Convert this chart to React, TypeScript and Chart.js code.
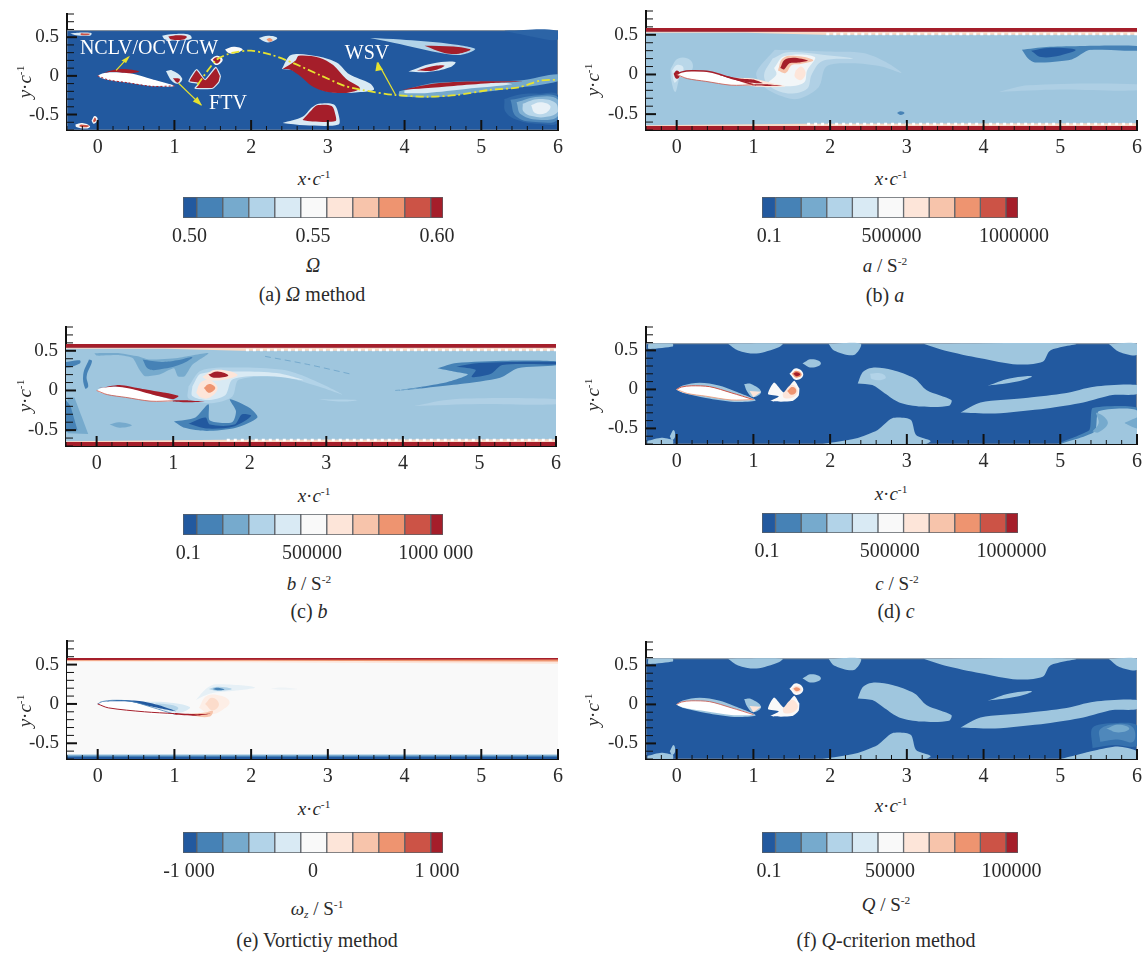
import React, { useEffect, useRef } from "react";
import { Chart, registerables } from "chart.js";
Chart.register(...registerables);

type Pt = [number, number];
const FONT = '"Liberation Serif", serif';

/* colour levels of the contour legend */
const levelColors = ["#22599f", "#4682b6", "#76aacd", "#b2d3e8", "#d9eaf4", "#f9f9f9", "#fde5d9", "#f7c4ab", "#ee9470", "#cc5346", "#a51e2a"];
const bandWidths = [0.53, 1, 1, 1, 1, 1, 1, 1, 1, 1, 0.47];
const [B0, B1, B2, B3, B4, B5, B6, B7, B8, B9, B10] = levelColors;
const FIELD_LIGHT = "#9fc6de";

const xTickMajor = [0, 1, 2, 3, 4, 5, 6];
const yTickMajor = [-0.5, 0, 0.5];

/* shared geometry */
const fieldRect: Pt[] = [[-0.4, 0.585], [6, 0.585], [6, -0.7], [-0.4, -0.7]];
const airfoil: Pt[] = [[0, 0], [0.06, 0.03], [0.19, 0.046], [0.43, 0.035], [0.71, -0.043], [1, -0.13], [0.71, -0.135], [0.38, -0.087], [0.14, -0.052], [0.03, -0.02]];
const airfoilUpperEdge: Pt[] = [[0, 0], [0.06, 0.03], [0.19, 0.046], [0.43, 0.035], [0.71, -0.043], [1, -0.13]];
const airfoilLowerEdge: Pt[] = [[0, 0], [0.14, -0.052], [0.38, -0.087], [0.71, -0.135], [1, -0.13]];

/* panel a, Omega */
const aTopLeft: Pt[] = [[-0.36, 0.55], [-0.18, 0.56], [-0.08, 0.55], [-0.1, 0.52], [-0.3, 0.53]];
const aTopLeftCore: Pt[] = [[-0.22, 0.55], [-0.1, 0.545], [-0.12, 0.53], [-0.22, 0.53]];
const aTopHalo: Pt[] = [[0.84, 0.52], [1.0, 0.54], [1.2, 0.53], [1.22, 0.48], [1.05, 0.46], [0.88, 0.47]];
const aTopCore: Pt[] = [[0.92, 0.51], [1.05, 0.525], [1.16, 0.51], [1.12, 0.47], [0.96, 0.47]];
const aSmallHalo: Pt[] = [[2.1, 0.49], [2.22, 0.52], [2.34, 0.49], [2.26, 0.44], [2.18, 0.44]];
const aSmallCore: Pt[] = [[2.2, 0.47], [2.24, 0.49], [2.28, 0.46], [2.24, 0.44]];
const aWhitePatch: Pt[] = [[1.66, 0.34], [1.77, 0.375], [1.89, 0.34], [1.78, 0.29], [1.7, 0.3]];
const aCircleHalo: Pt[] = [[1.47, 0.21], [1.55, 0.26], [1.63, 0.21], [1.55, 0.14]];
const aCircleCore: Pt[] = [[1.5, 0.21], [1.55, 0.24], [1.6, 0.21], [1.55, 0.16]];
const aPacman: Pt[] = [[1.6, 0.0], [1.54, 0.11], [1.4, -0.05], [1.29, 0.08], [1.19, -0.07], [1.32, -0.1], [1.27, -0.16], [1.5, -0.16], [1.58, -0.08]];
const aWingHalo: Pt[] = [[0.89, 0.06], [0.97, 0.07], [1.1, -0.03], [1.05, -0.1], [0.97, -0.07]];
const aWingCore: Pt[] = [[0.98, -0.03], [1.07, -0.04], [1.04, -0.09]];
const aMainHalo: Pt[] = [[2.4, 0.09], [2.52, 0.27], [2.88, 0.25], [3.12, 0.17], [3.28, 0.02], [3.55, -0.1], [3.6, -0.18], [3.36, -0.215], [3.12, -0.22], [2.89, -0.17], [2.7, -0.03], [2.55, 0.07]];
const aMainCore: Pt[] = [[2.41, 0.09], [2.58, 0.2], [2.62, 0.26], [2.89, 0.235], [3.07, 0.14], [3.24, -0.04], [3.42, -0.16], [3.24, -0.22], [2.98, -0.205], [2.79, -0.13], [2.65, -0.01], [2.51, 0.08]];
const aLowerHalo: Pt[] = [[2.41, -0.61], [2.67, -0.53], [2.79, -0.41], [2.88, -0.36], [3.08, -0.37], [3.14, -0.5], [3.14, -0.63], [2.7, -0.64]];
const aLowerCore: Pt[] = [[2.67, -0.57], [2.79, -0.44], [2.86, -0.38], [3.05, -0.39], [3.1, -0.51], [3.1, -0.585], [2.8, -0.59]];
const aUpperHalo: Pt[] = [[3.55, 0.49], [3.95, 0.47], [4.55, 0.42], [4.92, 0.35], [4.73, 0.27], [4.4, 0.31], [3.95, 0.41]];
const aUpperCore: Pt[] = [[4.26, 0.39], [4.64, 0.38], [4.86, 0.34], [4.71, 0.287], [4.52, 0.296]];
const aMidHalo: Pt[] = [[4.05, 0.057], [4.35, 0.157], [4.66, 0.18], [4.59, 0.11], [4.3, 0.05]];
const aMidCore: Pt[] = [[4.16, 0.07], [4.4, 0.13], [4.52, 0.13], [4.38, 0.07]];
const aWakeHalo: Pt[] = [[3.93, -0.2], [4.4, -0.09], [5.5, -0.06], [6, 0.02], [6, -0.07], [5.43, -0.16], [4.87, -0.226], [4.4, -0.278], [3.93, -0.26]];
const aWakeInner: Pt[] = [[4.0, -0.19], [4.4, -0.11], [5.3, -0.09], [5.4, -0.11], [4.8, -0.17], [4.3, -0.22], [4.0, -0.22]];
const aWakeCore: Pt[] = [[3.97, -0.18], [4.4, -0.1], [4.87, -0.074], [5.54, -0.074], [5.1, -0.096], [4.64, -0.13], [4.26, -0.16]];
const aGlow1: Pt[] = [[5.3, -0.3], [5.5, -0.24], [5.75, -0.23], [6, -0.25], [6, -0.6], [5.75, -0.62], [5.5, -0.58], [5.32, -0.47]];
const aGlow2: Pt[] = [[5.38, -0.31], [5.75, -0.25], [6, -0.28], [6, -0.56], [5.75, -0.6], [5.46, -0.53]];
const aGlow3: Pt[] = [[5.46, -0.34], [5.75, -0.27], [6, -0.31], [6, -0.52], [5.78, -0.57], [5.52, -0.5]];
const aGlow4: Pt[] = [[5.54, -0.36], [5.75, -0.3], [5.97, -0.35], [6, -0.46], [5.85, -0.53], [5.66, -0.52], [5.55, -0.46]];
const aGlow5: Pt[] = [[5.65, -0.38], [5.77, -0.34], [5.9, -0.39], [5.84, -0.48], [5.7, -0.48]];
const aCornerLeft: Pt[] = [[-0.29, -0.63], [-0.2, -0.61], [-0.1, -0.65], [-0.14, -0.68], [-0.28, -0.66]];
const aCornerLeftCore: Pt[] = [[-0.22, -0.63], [-0.11, -0.645], [-0.15, -0.665], [-0.24, -0.65]];
const aCornerDot: Pt[] = [[-0.08, -0.58], [-0.04, -0.52], [0, -0.56], [-0.05, -0.62]];
const aCornerDotCore: Pt[] = [[-0.06, -0.58], [-0.04, -0.54], [-0.02, -0.57], [-0.05, -0.6]];
const aYellowLine: Pt[] = [[1.3, -0.117], [1.55, 0.209], [1.75, 0.296], [2, 0.326], [2.27, 0.27], [2.55, 0.165], [2.89, 0.013], [3.22, -0.13], [3.45, -0.183], [3.88, -0.248], [4.31, -0.27], [4.68, -0.248], [5.1, -0.183], [5.49, -0.148], [5.77, -0.06], [6, -0.052]];
const aArrowNclv: Pt[] = [[0.24, 0.07], [0.4, 0.243]];
const aArrowNclvHead: Pt[] = [[0.42, 0.26], [0.31, 0.2], [0.37, 0.165]];
const aArrowFtv: Pt[] = [[1.055, -0.096], [1.35, -0.378]];
const aArrowFtvHead: Pt[] = [[1.36, -0.385], [1.24, -0.33], [1.3, -0.27]];
const aArrowWsv: Pt[] = [[3.88, -0.24], [3.65, 0.174]];
const aArrowWsvHead: Pt[] = [[3.64, 0.18], [3.62, 0.06], [3.72, 0.08]];
const aUpperFaint: Pt[] = [[5.3, 0.585], [6, 0.585], [6, 0.47], [5.7, 0.5], [5.5, 0.54]];

/* panel b, a */
const bTopBand: Pt[] = [[-0.4, 0.585], [6, 0.585], [6, 0.54], [-0.4, 0.54]];
const bTopPale: Pt[] = [[-0.4, 0.54], [6, 0.54], [6, 0.5], [1.9, 0.5], [0.9, 0.525], [-0.4, 0.525]];
const bBottomBand: Pt[] = [[-0.4, -0.7], [6, -0.7], [6, -0.65], [-0.4, -0.65]];
const bBottomPale: Pt[] = [[-0.4, -0.65], [6, -0.65], [6, -0.615], [1.7, -0.62], [-0.4, -0.64]];
const bDotsTop: Pt[] = [[1.95, 0.51], [6, 0.51]];
const bDotsBottom: Pt[] = [[1.7, -0.625], [6, -0.625]];
const bLeadHalo: Pt[] = [[-0.08, 0.07], [0.02, 0.2], [0.18, 0.18], [0.2, 0.06], [0.05, 0], [0.02, -0.1], [-0.02, -0.22], [-0.07, -0.08]];
const bLeadMid: Pt[] = [[-0.06, 0.05], [0, 0.12], [0.08, 0.1], [0.08, 0.03], [0.02, -0.06], [-0.03, -0.1]];
const bLeadCore: Pt[] = [[-0.04, 0.01], [0, 0.05], [0.04, 0.02], [0.03, -0.04], [-0.01, -0.05]];
const bTail: Pt[] = [[1.28, 0.31], [1.95, 0.29], [2.43, 0.27], [2.72, 0.16], [2.93, 0.02], [2.67, 0.1], [2.28, 0.14], [1.95, 0.1], [1.85, -0.16], [1.57, -0.31], [1.28, -0.24], [1.09, -0.115], [1.04, 0.03]];
const bTail2: Pt[] = [[1.25, 0.2], [1.45, 0.28], [1.9, 0.25], [2.3, 0.2], [1.9, 0.17], [1.76, 0.0], [1.7, -0.18], [1.45, -0.24], [1.2, -0.14], [1.14, 0.0]];
const bTailWhite: Pt[] = [[1.27, 0.08], [1.4, 0.23], [1.8, 0.22], [1.7, 0.05], [1.66, -0.1], [1.42, -0.15], [1.2, -0.11], [1.3, 0.0]];
const bSalmon: Pt[] = [[1.55, 0.05], [1.62, 0.1], [1.68, 0.02], [1.62, -0.07], [1.54, -0.03]];
const bVortex: Pt[] = [[1.35, 0.08], [1.4, 0.18], [1.52, 0.21], [1.71, 0.175], [1.6, 0.15], [1.47, 0.14], [1.4, 0.064]];
const bVortexHalo: Pt[] = [[1.32, 0.05], [1.38, 0.2], [1.52, 0.235], [1.78, 0.18], [1.6, 0.13], [1.5, 0.12], [1.42, 0.02]];
const bEdgeHalo: Pt[] = [[0.72, -0.04], [1.0, -0.05], [1.25, -0.11], [1.42, -0.15], [1.0, -0.15]];
const bEdgeCore: Pt[] = [[0.55, -0.005], [0.85, -0.055], [1.0, -0.065], [1.12, -0.11], [0.93, -0.1], [0.72, -0.06]];
const bEdgeLower: Pt[] = [[1.0, -0.125], [1.2, -0.125], [1.38, -0.14], [1.2, -0.145], [1.0, -0.14]];
const bBlueOuter: Pt[] = [[4.5, 0.31], [4.82, 0.345], [6, 0.36], [6, 0.3], [5.39, 0.31], [5.15, 0.19], [4.67, 0.15], [4.58, 0.2]];
const bBlueInner: Pt[] = [[4.62, 0.3], [4.85, 0.335], [5.2, 0.31], [5.0, 0.24], [4.75, 0.22]];
const bBlueLine: Pt[] = [[5.2, 0.325], [6, 0.34], [6, 0.315], [5.2, 0.315]];
const bPaleStreak: Pt[] = [[4.2, -0.22], [4.58, -0.137], [6, -0.124], [6, -0.2], [5.0, -0.19]];
const bDot: Pt[] = [[2.87, -0.487], [2.92, -0.465], [2.97, -0.487], [2.92, -0.51]];

/* panel c, b */
const cTopBlue: Pt[] = [[-0.03, 0.47], [0.3, 0.47], [0.54, 0.43], [0.68, 0.39], [1.06, 0.41], [1.46, 0.47], [1.25, 0.325], [1.15, 0.18], [1.06, 0.18], [1.01, 0.28], [0.82, 0.2], [0.63, 0.18], [0.56, 0.26], [0.47, 0.41], [0.3, 0.445], [0, 0.44]];
const cTopBlueDark: Pt[] = [[0.6, 0.39], [0.85, 0.36], [1.05, 0.38], [1.25, 0.42], [1.1, 0.33], [0.85, 0.27], [0.68, 0.27]];
const cCrescent: Pt[] = [[-0.1, 0.39], [-0.175, 0.2], [-0.15, 0.025], [-0.11, 0.05], [-0.13, 0.18], [-0.06, 0.37]];
const cLeftTop: Pt[] = [[-0.4, 0.36], [-0.22, 0.38], [-0.22, 0.34], [-0.4, 0.29]];
const cLeftLow: Pt[] = [[-0.38, -0.09], [-0.29, -0.09], [-0.11, -0.55], [-0.38, -0.54]];
const cLeftLowDark: Pt[] = [[-0.4, -0.12], [-0.34, -0.2], [-0.25, -0.5], [-0.4, -0.52]];
const cLowerU: Pt[] = [[1.01, -0.39], [1.29, -0.34], [1.46, -0.175], [1.48, -0.38], [1.77, -0.4], [1.82, -0.26], [1.74, -0.11], [2.0, -0.22], [2.1, -0.34], [1.82, -0.47], [1.44, -0.51], [1.15, -0.47]];
const cLowerUDark: Pt[] = [[1.2, -0.42], [1.42, -0.34], [1.48, -0.43], [1.8, -0.43], [1.9, -0.3], [2.02, -0.32], [1.8, -0.45], [1.44, -0.48]];
const cSmallEllipse: Pt[] = [[0.17, -0.43], [0.3, -0.4], [0.46, -0.44], [0.3, -0.47]];
const cUpperRight: Pt[] = [[4.45, 0.28], [4.7, 0.346], [5.37, 0.375], [6, 0.367], [6, 0.317], [5.5, 0.28], [5.27, 0.16], [4.75, 0.08], [3.95, 0], [4.56, 0.1], [4.85, 0.2], [4.66, 0.24]];
const cUpperRightDark: Pt[] = [[4.7, 0.3], [5.0, 0.345], [6, 0.36], [6, 0.33], [5.3, 0.32], [5.15, 0.21], [4.9, 0.17], [4.95, 0.26]];
const cVortexCore: Pt[] = [[1.46, 0.2], [1.58, 0.24], [1.72, 0.19], [1.58, 0.16], [1.5, 0.17]];
const cSecondCore: Pt[] = [[1.4, 0.03], [1.47, 0.08], [1.55, 0.03], [1.47, -0.03]];
const cSecondHalo: Pt[] = [[1.3, -0.03], [1.36, 0.1], [1.48, 0.13], [1.58, 0.03], [1.48, -0.09], [1.36, -0.09]];
const cVortexHalo: Pt[] = [[1.38, 0.17], [1.56, 0.26], [1.84, 0.2], [1.7, 0.14], [1.46, 0.13]];
const cTail: Pt[] = [[1.2, 0.05], [1.36, 0.25], [1.77, 0.29], [2.43, 0.26], [2.76, 0.16], [3.21, -0.05], [2.9, 0.05], [2.43, 0.167], [1.86, 0.137], [1.77, -0.08], [1.5, -0.16], [1.2, -0.1]];
const cTailWhite: Pt[] = [[1.25, 0.05], [1.36, 0.21], [1.8, 0.24], [2.35, 0.22], [2.7, 0.13], [2.3, 0.18], [1.78, 0.14], [1.68, -0.06], [1.45, -0.12], [1.25, -0.07]];
const cPaleStreak: Pt[] = [[4.14, -0.196], [4.66, -0.11], [6, -0.11], [6, -0.175], [5.0, -0.17]];
const cPaleMini: Pt[] = [[2.9, -0.11], [3.4, -0.12], [3.2, -0.14]];
const cThinTop: Pt[] = [[2.2, 0.43], [2.75, 0.33], [3.35, 0.2]];
const cThinLow: Pt[] = [[3.9, 0], [4.25, 0.03]];
const cEdgeCore: Pt[] = [[0.03, 0.03], [0.3, 0.07], [0.6, 0.02], [0.9, -0.03], [1.07, -0.07], [1.0, -0.11], [0.8, -0.07], [0.5, 0.01], [0.25, 0.05]];

/* panels d and f, c and Q */
const dTopLeft: Pt[] = [[-0.37, 0.585], [-0.05, 0.585], [-0.05, 0.55], [-0.37, 0.52]];
const dTop1: Pt[] = [[0.67, 0.585], [1.38, 0.585], [1.33, 0.54], [1.04, 0.46], [0.8, 0.5]];
const dTop2: Pt[] = [[1.98, 0.585], [2.4, 0.585], [2.31, 0.44], [2.05, 0.5]];
const dTop3: Pt[] = [[3.22, 0.585], [5.2, 0.585], [4.87, 0.5], [4.77, 0.355], [4.44, 0.32], [3.96, 0.4], [3.49, 0.5]];
const dTop4: Pt[] = [[5.63, 0.585], [6, 0.585], [6, 0.44], [5.77, 0.48]];
const dOval: Pt[] = [[1.64, 0.333], [1.76, 0.385], [1.88, 0.333], [1.76, 0.28]];
const dCircle: Pt[] = [[1.47, 0.2], [1.56, 0.27], [1.65, 0.19], [1.56, 0.12]];
const dCircleCore: Pt[] = [[1.52, 0.2], [1.56, 0.22], [1.61, 0.19], [1.56, 0.17]];
const dCircleMid: Pt[] = [[1.5, 0.2], [1.56, 0.24], [1.63, 0.19], [1.56, 0.15]];
const dPacman: Pt[] = [[1.6, 0.01], [1.53, 0.11], [1.4, -0.04], [1.27, 0.09], [1.19, -0.06], [1.33, -0.09], [1.22, -0.15], [1.5, -0.15], [1.59, -0.08]];
const dPacmanPale: Pt[] = [[1.38, -0.06], [1.5, 0.06], [1.58, -0.02], [1.52, -0.1], [1.4, -0.11]];
const dPacmanSpot: Pt[] = [[1.44, -0.02], [1.51, 0.03], [1.56, -0.02], [1.5, -0.07]];
const dWing: Pt[] = [[0.88, 0.07], [0.97, 0.07], [1.1, -0.03], [1.0, -0.1], [0.92, -0.03]];
const dWingWhite: Pt[] = [[0.95, -0.02], [1.1, -0.03], [1.0, -0.1]];
const dAirfoilHalo: Pt[] = [[-0.01, 0], [0.08, 0.05], [0.3, 0.085], [0.55, 0.05], [0.75, -0.02], [1.03, -0.14], [0.75, -0.16], [0.38, -0.11], [0.1, -0.05]];
const dMain: Pt[] = [[2.36, 0.077], [2.43, 0.226], [2.57, 0.28], [2.81, 0.248], [3.1, 0.14], [3.26, -0.01], [3.58, -0.137], [3.55, -0.21], [3.19, -0.22], [2.9, -0.167], [2.71, -0.05], [2.55, 0.055]];
const dMainPale: Pt[] = [[2.52, 0.2], [2.68, 0.2], [2.72, 0.14], [2.55, 0.13]];
const dMid: Pt[] = [[4.05, 0.047], [4.34, 0.14], [4.63, 0.17], [4.44, 0.1]];
const dLong: Pt[] = [[3.7, -0.295], [3.96, -0.167], [4.58, -0.107], [5.06, -0.05], [5.44, 0.034], [6, 0.055], [6, -0.06], [5.68, -0.073], [5.3, -0.167], [4.82, -0.244], [4.15, -0.308]];
const dLower: Pt[] = [[1.9, -0.7], [2.33, -0.63], [2.62, -0.52], [2.81, -0.37], [3.05, -0.39], [3.12, -0.585], [3.31, -0.66], [3.24, -0.7]];
const dLowerRightHalo: Pt[] = [[4.95, -0.7], [5.38, -0.52], [5.42, -0.24], [6, -0.235], [6, -0.7]];
const dLowerRight: Pt[] = [[5.0, -0.7], [5.45, -0.54], [5.5, -0.28], [6, -0.27], [6, -0.7]];
const dCrossL: Pt[] = [[5.42, -0.54], [5.5, -0.43], [5.47, -0.3], [5.62, -0.42], [5.5, -0.55]];
const dCrossR: Pt[] = [[6, -0.36], [5.84, -0.43], [6, -0.5]];
const dBottomLeft: Pt[] = [[-0.38, -0.66], [-0.2, -0.62], [-0.05, -0.65], [-0.05, -0.7], [-0.38, -0.7]];
const dBottomDot: Pt[] = [[-0.09, -0.6], [-0.04, -0.52], [-0.02, -0.6], [-0.06, -0.65]];
const fBottomStrip: Pt[] = [[5.0, -0.7], [5.45, -0.59], [5.75, -0.54], [6, -0.6], [6, -0.7]];
const fLowerDark: Pt[] = [[5.42, -0.56], [5.42, -0.3], [5.72, -0.24], [6, -0.27], [6, -0.53], [5.7, -0.52]];
const fLowerMid: Pt[] = [[5.52, -0.48], [5.52, -0.32], [5.75, -0.25], [5.95, -0.3], [5.95, -0.48], [5.75, -0.45]];
const fLowerGlow: Pt[] = [[5.6, -0.31], [5.76, -0.26], [5.9, -0.31], [5.76, -0.36]];

/* panel e, vorticity */
const eTopBand: Pt[] = [[-0.4, 0.585], [6, 0.585], [6, 0.565], [-0.4, 0.56]];
const eTopMid: Pt[] = [[-0.4, 0.565], [6, 0.575], [6, 0.54], [2, 0.55], [-0.4, 0.55]];
const eTopPale: Pt[] = [[-0.4, 0.555], [6, 0.56], [6, 0.51], [2, 0.53], [-0.4, 0.54]];
const eBottom1: Pt[] = [[-0.4, -0.64], [6, -0.64], [6, -0.7], [-0.4, -0.7]];
const eBottom2: Pt[] = [[-0.4, -0.655], [6, -0.655], [6, -0.7], [-0.4, -0.7]];
const eBottom3: Pt[] = [[-0.4, -0.675], [6, -0.675], [6, -0.7], [-0.4, -0.7]];
const eUpperBlue: Pt[] = [[0.02, 0.025], [0.28, 0.05], [0.57, 0.034], [0.8, -0.017], [1.02, -0.093], [0.73, -0.04], [0.45, 0.025], [0.2, 0.035]];
const eUpperPale: Pt[] = [[0.6, 0.03], [0.9, 0.02], [1.2, -0.04], [1.12, -0.1], [1.0, -0.11], [0.75, -0.04]];
const eUpperPale2: Pt[] = [[0.75, 0.01], [0.95, -0.01], [1.05, -0.05], [1.0, -0.09], [0.8, -0.03]];
const eLowerEdge: Pt[] = [[0, 0], [0.14, -0.05], [0.61, -0.1], [1, -0.123]];
const eLowerWake: Pt[] = [[1, -0.115], [1.28, -0.13], [1.47, -0.125], [1.28, -0.15], [1, -0.135]];
const eLowerWakePale: Pt[] = [[1.2, -0.125], [1.4, -0.11], [1.5, -0.09], [1.46, -0.16], [1.25, -0.15]];
const eCircleOuter: Pt[] = [[1.32, -0.05], [1.42, 0.1], [1.62, 0.1], [1.72, 0.02], [1.62, -0.08], [1.46, -0.13]];
const eCircleInner: Pt[] = [[1.4, 0], [1.49, 0.08], [1.58, 0], [1.5, -0.08]];
const eVortexHalo: Pt[] = [[1.28, 0.05], [1.42, 0.2], [1.55, 0.25], [2.05, 0.21], [1.7, 0.16], [1.5, 0.14], [1.38, 0.1]];
const eVortexMid: Pt[] = [[1.45, 0.19], [1.56, 0.22], [1.75, 0.19], [1.56, 0.165]];
const eVortexCore: Pt[] = [[1.5, 0.19], [1.56, 0.205], [1.65, 0.185], [1.56, 0.175]];
const eFaint: Pt[] = [[2.25, 0.195], [2.4, 0.21], [2.6, 0.19], [2.4, 0.18]];

type Layer = { pts: Pt[]; fill?: string; stroke?: string; width?: number; dash?: number[]; tension?: number };
const area = (pts: Pt[], fill: string, tension = 0.42, stroke?: string, width = 0): Layer => ({ pts: [...pts, pts[0]], fill, tension, stroke, width });
const line = (pts: Pt[], stroke: string, width = 1, dash?: number[], tension = 0.3): Layer => ({ pts, stroke, width, dash, tension });
const hardEdge = "#7a8794";

const panelA: Layer[] = [
  area(fieldRect, B0, 0, hardEdge, 1),
  area(aUpperFaint, "#2c64a6"),
  area(aGlow1, "#2f68a8"), area(aGlow2, "#4f88bb"), area(aGlow3, "#82b1d3"), area(aGlow4, "#b9d7ea"), area(aGlow5, "#e8f1f7"),
  area(aTopLeft, B4), area(aTopLeftCore, B9), area(aTopHalo, B4), area(aTopCore, B10),
  area(aSmallHalo, B4), area(aSmallCore, B8), area(aWhitePatch, B5),
  area(aUpperHalo, B3, 0.3), area(aUpperCore, B10, 0.3),
  area(aMidHalo, B4), area(aMidCore, B10),
  area(aWakeHalo, B2, 0.3), area(aWakeInner, B4, 0.3), area(aWakeCore, B10, 0.3),
  area(aMainHalo, B4, 0.3), area(aMainCore, B10, 0.3),
  area(aLowerHalo, B4, 0.3), area(aLowerCore, B10, 0.3),
  area(aCircleHalo, B5), area(aCircleCore, B10),
  area(aPacman, B10, 0.15, B4, 1.2),
  area(aWingHalo, B4), area(aWingCore, B10),
  area(aCornerLeft, B5), area(aCornerLeftCore, B9), area(aCornerDot, B5), area(aCornerDotCore, B9),
  area(airfoil, "#ffffff", 0.3),
  line(airfoilLowerEdge, B10, 1, [2, 2]),
  area([[0.05, 0.035], [0.28, 0.087], [0.54, 0.057], [0.42, 0.035], [0.19, 0.05]], B10),
  line(aYellowLine, "#e6e22f", 1.8, [8, 3, 2, 3], 0.25),
  line(aArrowNclv, "#e6e22f", 1.2, undefined, 0), area(aArrowNclvHead, "#e6e22f", 0),
  line(aArrowFtv, "#e6e22f", 1.2, undefined, 0), area(aArrowFtvHead, "#e6e22f", 0),
  line(aArrowWsv, "#e6e22f", 1.2, undefined, 0), area(aArrowWsvHead, "#e6e22f", 0),
];

const bands: Layer[] = [
  area(bTopPale, "#fbd9c5", 0), area(bTopBand, B10, 0),
  area(bBottomPale, "#fbd9c5", 0), area(bBottomBand, B10, 0),
  line(bDotsTop, "#ffffff", 2.5, [3, 4], 0), line(bDotsBottom, "#ffffff", 2.5, [3, 4], 0),
];

const panelB: Layer[] = [
  area(fieldRect, FIELD_LIGHT, 0),
  ...bands,
  area(bPaleStreak, "#aecfe4", 0.3),
  area(bBlueOuter, B1, 0.25), area(bBlueInner, B0, 0.35), area(bBlueLine, B1, 0),
  area(bDot, B1),
  area(bLeadHalo, "#b9d7e9"), area(bLeadMid, B4), area(bLeadCore, B10),
  area(bTail, "#b0d0e5", 0.3), area(bTail2, "#cbe1ee", 0.35), area(bTailWhite, "#f2f6f8", 0.35), area(bSalmon, B6),
  area(bVortexHalo, B7), area(bVortex, B10, 0.3),
  area(airfoil, "#ffffff", 0.3),
  area(bEdgeHalo, B6, 0.3), area(bEdgeLower, B10, 0.2), area(bEdgeCore, B10, 0.2),
  line(airfoilUpperEdge, B10, 1.4), line(airfoilLowerEdge, B9, 0.8),
];

const panelC: Layer[] = [
  area(fieldRect, FIELD_LIGHT, 0),
  ...bands,
  area(cTopBlue, B2, 0.2), area(cTopBlueDark, B1),
  area(cCrescent, B1), area(cLeftTop, B1), area(cLeftLow, B2, 0), area(cLeftLowDark, B1, 0),
  area(cLowerU, B1, 0.25), area(cLowerUDark, B0, 0.3),
  area(cSmallEllipse, B2),
  area(cUpperRight, B1, 0.25), area(cUpperRightDark, B0, 0.3),
  line(cThinTop, B2, 1, [6, 4]), line(cThinLow, B2, 1, [5, 3]),
  area(cPaleStreak, "#b0d0e5", 0.3), area(cPaleMini, B3),
  area(cTail, B3, 0.3), area(cTailWhite, B4, 0.3),
  area(cSecondHalo, B6), area(cSecondCore, B8),
  area(cVortexHalo, B6), area(cVortexCore, B10),
  area(airfoil, "#ffffff", 0.3),
  area(cEdgeCore, B10, 0.2), line(airfoilLowerEdge, B9, 0.8),
  area([[1, -0.125], [1.2, -0.125], [1.42, -0.14], [1.2, -0.15], [1, -0.14]], B10, 0.2),
];

const wakeBlobs: Layer[] = [
  area(dTopLeft, FIELD_LIGHT, 0.2), area(dTop1, FIELD_LIGHT, 0.3), area(dTop2, FIELD_LIGHT, 0.3), area(dTop3, FIELD_LIGHT, 0.3), area(dTop4, FIELD_LIGHT, 0.3),
  area(dOval, FIELD_LIGHT, 0.5),
  area(dMain, FIELD_LIGHT, 0.3), area(dMid, FIELD_LIGHT), area(dLong, FIELD_LIGHT, 0.25), area(dLower, FIELD_LIGHT, 0.25),
  area(dBottomLeft, FIELD_LIGHT, 0.2), area(dBottomDot, FIELD_LIGHT),
];

const panelD: Layer[] = [
  area(fieldRect, B0, 0, hardEdge, 1),
  ...wakeBlobs,
  area(dMainPale, B3, 0.5),
  area(dLowerRightHalo, B1, 0.15), area(dLowerRight, FIELD_LIGHT, 0.2), area(dCrossL, B2), area(dCrossR, B2, 0.1),
  area(dAirfoilHalo, FIELD_LIGHT, 0.3),
  area(airfoil, "#ffffff", 0.3), line(airfoilUpperEdge, B9, 1), line(airfoilLowerEdge, B8, 0.8),
  area(dCircle, B5, 0.5), area(dCircleMid, B8, 0.5), area(dCircleCore, B10, 0.5),
  area(dPacman, B5, 0.2), area(dPacmanPale, B6), area(dPacmanSpot, B8, 0.5),
  area(dWing, FIELD_LIGHT), area(dWingWhite, B6, 0),
];

const panelE: Layer[] = [
  area(fieldRect, B5, 0),
  area(eTopPale, B6, 0), area(eTopMid, B8, 0), area(eTopBand, B10, 0),
  area(eBottom1, B3, 0), area(eBottom2, B1, 0), area(eBottom3, B0, 0),
  area(eVortexHalo, "#e6f0f6", 0.35), area(eFaint, "#eef3f6"),
  area(eVortexMid, B3), area(eVortexCore, B1),
  area(eCircleOuter, "#fdeee6"), area(eCircleInner, "#fcdccb", 0.5),
  area(eUpperPale, B4), area(eUpperPale2, B3),
  area(airfoil, "#ffffff", 0.3),
  area(eUpperBlue, B0, 0.25), line(airfoilUpperEdge, B1, 0.8),
  line(eLowerEdge, B10, 1), area(eLowerWakePale, B7), area(eLowerWake, B10, 0.2),
];

const panelF: Layer[] = [
  area(fieldRect, B0, 0, hardEdge, 1),
  ...wakeBlobs,
  area(fLowerDark, "#3470ad", 0.3), area(fLowerMid, "#4f88bb", 0.4), area(fLowerGlow, B2, 0.5),
  area(fBottomStrip, FIELD_LIGHT, 0.25),
  area(dAirfoilHalo, FIELD_LIGHT, 0.3),
  area(airfoil, "#ffffff", 0.3), line(airfoilUpperEdge, B9, 0.8),
  area(dCircle, B5, 0.5), area(dCircleMid, B6, 0.5), area(dCircleCore, B8, 0.5),
  area(dPacman, B5, 0.2), area(dPacmanPale, B6),
  area(dWing, FIELD_LIGHT), area(dWingWhite, B6, 0),
];

/* inward ticks: */
const inwardTicks = {
  id: "inwardTicks",
  afterDatasetsDraw(chart: any) {
    const { ctx, chartArea, scales } = chart;
    ctx.save();
    ctx.strokeStyle = "#111";
    for (const t of scales.x.ticks) {
      const major = xTickMajor.some((v) => Math.abs(v - t.value) < 1e-6);
      const px = scales.x.getPixelForValue(t.value);
      ctx.lineWidth = major ? 2 : 1;
      ctx.beginPath(); ctx.moveTo(px, chartArea.bottom); ctx.lineTo(px, chartArea.bottom - (major ? 10 : 4)); ctx.stroke();
    }
    for (const t of scales.y.ticks) {
      const major = yTickMajor.some((v) => Math.abs(v - t.value) < 1e-6);
      const py = scales.y.getPixelForValue(t.value);
      ctx.lineWidth = major ? 2 : 1;
      ctx.beginPath(); ctx.moveTo(chartArea.left, py); ctx.lineTo(chartArea.left + (major ? 10 : 7), py); ctx.stroke();
    }
    ctx.restore();
  },
};

const AXIS_W = 55, AXIS_H = 32, PAD_TOP = 6, PAD_R = 14;
const noScalePadding = (s: any) => { s.paddingLeft = 0; s.paddingRight = 0; s.paddingTop = 0; s.paddingBottom = 0; };

function Contour({ layers, left, right, top, bottom }: { layers: Layer[]; left: number; right: number; top: number; bottom: number }) {
  const ref = useRef<HTMLCanvasElement>(null);
  useEffect(() => {
    const datasets = [...layers].reverse().map((l) => ({
      data: l.pts.map(([x, y]) => ({ x, y })),
      showLine: true, pointRadius: 0, pointHoverRadius: 0,
      fill: l.fill ? "shape" : false,
      backgroundColor: l.fill ?? "transparent",
      borderColor: l.stroke ?? l.fill,
      borderWidth: l.width ?? 0,
      borderDash: l.dash ?? [],
      tension: l.tension ?? 0,
    }));
    const chart = new Chart(ref.current!, {
      type: "scatter",
      data: { datasets } as any,
      plugins: [inwardTicks],
      options: {
        animation: false, responsive: false,
        layout: { autoPadding: false, padding: { top: PAD_TOP, right: PAD_R, left: 0, bottom: 0 } },
        plugins: { legend: { display: false }, tooltip: { enabled: false } },
        scales: {
          x: {
            type: "linear", min: -0.4, max: 6,
            afterFit: (s: any) => { s.height = AXIS_H; noScalePadding(s); },
            grid: { display: false, drawTicks: false }, border: { color: "#111", width: 2 },
            ticks: {
              stepSize: 0.2, autoSkip: false, maxRotation: 0, padding: 6,
              color: "#2a2a2a", font: { family: FONT, size: 20 },
              callback: (v: any) => (xTickMajor.some((m) => Math.abs(m - v) < 1e-6) ? String(Math.round(v)) : ""),
            },
          },
          y: {
            type: "linear", min: -0.7, max: 0.8,
            afterFit: (s: any) => { s.width = AXIS_W; noScalePadding(s); },
            grid: { display: false, drawTicks: false }, border: { color: "#111", width: 2 },
            ticks: {
              stepSize: 0.1, autoSkip: false, padding: 8,
              color: "#2a2a2a", font: { family: FONT, size: 19 },
              callback: (v: any) => {
                const m = yTickMajor.find((k) => Math.abs(k - v) < 1e-6);
                return m === undefined ? "" : String(m);
              },
            },
          },
        },
      } as any,
    });
    return () => chart.destroy();
  }, []);
  const w = right - left + AXIS_W + PAD_R;
  const h = bottom - top + AXIS_H + PAD_TOP;
  return <canvas ref={ref} width={w} height={h} style={{ position: "absolute", left: left - AXIS_W, top: top - PAD_TOP, width: w, height: h, filter: "blur(0.45px)" }} />;
}

function ColorBar({ left, right, top, bottom, ticksAt, labels }: { left: number; right: number; top: number; bottom: number; ticksAt: number[]; labels: string[] }) {
  const ref = useRef<HTMLCanvasElement>(null);
  const M = 60, H = 32;
  useEffect(() => {
    const chart = new Chart(ref.current!, {
      type: "bar",
      data: {
        labels: ["levels"],
        datasets: bandWidths.map((w, i) => ({
          data: [w], backgroundColor: levelColors[i], borderColor: "#5b6066", borderWidth: 1, borderSkipped: false,
          barPercentage: 1, categoryPercentage: 1,
        })),
      },
      options: {
        indexAxis: "y", animation: false, responsive: false,
        layout: { autoPadding: false, padding: { left: M, right: M, top: 0, bottom: 0 } },
        plugins: { legend: { display: false }, tooltip: { enabled: false } },
        scales: {
          y: { stacked: true, display: false },
          x: {
            stacked: true, min: 0, max: 10,
            afterFit: (s: any) => { s.height = H; noScalePadding(s); },
            afterBuildTicks: (s: any) => { s.ticks = ticksAt.map((value) => ({ value })); },
            grid: { display: false, drawTicks: false }, border: { display: false },
            ticks: {
              autoSkip: false, maxRotation: 0, padding: 7, color: "#2a2a2a", font: { family: FONT, size: 20 },
              callback: (_: any, i: number) => labels[i],
            },
          },
        },
      } as any,
    });
    return () => chart.destroy();
  }, []);
  const w = right - left + 2 * M;
  const h = bottom - top + H;
  return <canvas ref={ref} width={w} height={h} style={{ position: "absolute", left: left - M, top, width: w, height: h, filter: "blur(0.35px)" }} />;
}

function Txt({ x, y, size = 20, color = "#2a2a2a", rotate, children }: { x: number; y: number; size?: number; color?: string; rotate?: boolean; children: React.ReactNode }) {
  return (
    <div style={{ position: "absolute", left: x, top: y, transform: `translate(-50%,-50%)${rotate ? " rotate(-90deg)" : ""}`, fontFamily: FONT, fontSize: size, color, whiteSpace: "nowrap", lineHeight: 1 }}>
      {children}
    </div>
  );
}
const Sup = ({ children }: { children: React.ReactNode }) => <sup style={{ fontSize: "0.6em", lineHeight: 0, verticalAlign: "0.6em" }}>{children}</sup>;
const Sub = ({ children }: { children: React.ReactNode }) => <sub style={{ fontSize: "0.6em", lineHeight: 0, verticalAlign: "-0.3em" }}>{children}</sub>;
const Xlabel = ({ x, y }: { x: number; y: number }) => <Txt x={x} y={y} size={19}><i>x</i>·<i>c</i><Sup>-1</Sup></Txt>;
const Ylabel = ({ x, y }: { x: number; y: number }) => <Txt x={x} y={y} size={19} rotate><i>y</i>·<i>c</i><Sup>-1</Sup></Txt>;

export default function App() {
  return (
    <div style={{ position: "absolute", left: 0, top: 0, width: 1145, height: 953, background: "#fff", overflow: "hidden" }}>
      <Contour layers={panelA} left={67} right={558} top={14} bottom={130} />
      <Contour layers={panelB} left={646} right={1137} top={11} bottom={130} />
      <Contour layers={panelC} left={66} right={556} top={327} bottom={446} />
      <Contour layers={panelD} left={646} right={1137} top={327} bottom={444} />
      <Contour layers={panelE} left={67} right={558} top={641} bottom={759} />
      <Contour layers={panelF} left={646} right={1137} top={642} bottom={759} />

      <ColorBar left={183} right={443} top={197} bottom={218} ticksAt={[0.25, 5, 9.77]} labels={["0.50", "0.55", "0.60"]} />
      <ColorBar left={762} right={1018} top={197} bottom={218} ticksAt={[0.28, 5.06, 9.84]} labels={["0.1", "500000", "1000000"]} />
      <ColorBar left={183} right={443} top={514} bottom={535} ticksAt={[0.2, 4.96, 9.72]} labels={["0.1", "500000", "1000 000"]} />
      <ColorBar left={762} right={1018} top={513} bottom={533} ticksAt={[0.2, 4.99, 9.75]} labels={["0.1", "500000", "1000000"]} />
      <ColorBar left={183} right={443} top={832} bottom={853} ticksAt={[0.23, 5, 9.77]} labels={["-1 000", "0", "1 000"]} />
      <ColorBar left={762} right={1018} top={832} bottom={853} ticksAt={[0.27, 5, 9.75]} labels={["0.1", "50000", "100000"]} />

      <Ylabel x={24} y={82} /><Ylabel x={592} y={80} /><Ylabel x={24} y={396} /><Ylabel x={592} y={395} /><Ylabel x={24} y={711} /><Ylabel x={592} y={710} />
      <Xlabel x={314} y={178} /><Xlabel x={891} y={178} /><Xlabel x={314} y={495} /><Xlabel x={891} y={493} /><Xlabel x={314} y={808} /><Xlabel x={891} y={805} />

      <Txt x={149} y={47} color="#ffffff">NCLV/OCV/CW</Txt>
      <Txt x={228} y={102} color="#ffffff">FTV</Txt>
      <Txt x={367} y={52} color="#ffffff">WSV</Txt>

      <Txt x={313} y={265}><i>Ω</i></Txt>
      <Txt x={885} y={265} size={19}><i>a</i> / S<Sup>-2</Sup></Txt>
      <Txt x={309} y={583} size={19}><i>b</i> / S<Sup>-2</Sup></Txt>
      <Txt x={897} y={583} size={19}><i>c</i> / S<Sup>-2</Sup></Txt>
      <Txt x={317} y={908} size={19}><i>ω</i><Sub><i>z</i></Sub> / S<Sup>-1</Sup></Txt>
      <Txt x={886} y={904} size={19}><i>Q</i> / S<Sup>-2</Sup></Txt>

      <Txt x={312} y={294}>(a) <i>Ω</i> method</Txt>
      <Txt x={885} y={295}>(b) <i>a</i></Txt>
      <Txt x={309} y={611}>(c) <i>b</i></Txt>
      <Txt x={896} y={611}>(d) <i>c</i></Txt>
      <Txt x={317} y={940}>(e) Vortictiy method</Txt>
      <Txt x={886} y={940}>(f) <i>Q</i>-criterion method</Txt>
    </div>
  );
}
